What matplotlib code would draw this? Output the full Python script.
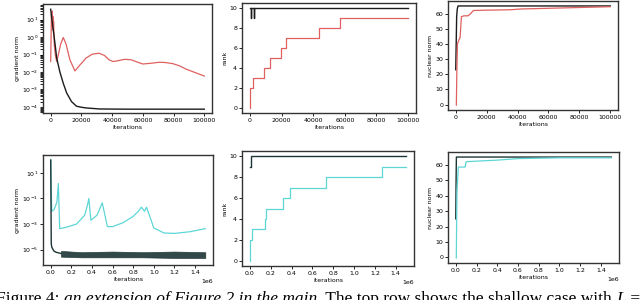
import numpy as np
import matplotlib
matplotlib.use("Agg")
import matplotlib.pyplot as plt
from matplotlib.ticker import FixedLocator, LogFormatterSciNotation

RED = '#e06060'
CYAN = '#5fd6d6'
DARK = '#1c1c1c'
DARK2 = '#1d3434'

# ---- top row (shallow), iterations 0..100000 ----
# gradient norm (log10 values)
gt_black_x = [0, 800, 1700, 3000, 3900, 6000, 8200, 10400, 13600, 16800, 20000, 23000, 32000, 50000, 75000, 100000]
gt_black_y = [1.6, 1.0, 0.4, -0.5, -1.2, -2.0, -2.65, -3.2, -3.7, -3.96, -4.02, -4.06, -4.12, -4.13, -4.13, -4.13]
gt_red_x = [0, 500, 800, 1000, 1200, 1400, 1600, 1900, 2300, 3000, 3900, 5000, 6500, 8200, 10000, 12500,
            15800, 19000, 23000, 27000, 31500, 35000, 38000, 40600, 44000, 48200, 52500, 56000, 60000,
            65000, 70800, 75000, 79500, 84000, 88000, 94000, 100000]
gt_red_y = [-1.4, 1.3, 0.7, 1.5, 0.6, 1.2, 0.4, 0.9, -0.4, -1.0, -1.4, -1.0, -0.4, -0.02, -0.4, -1.3,
            -1.94, -1.6, -1.2, -0.98, -0.92, -1.05, -1.3, -1.4, -1.35, -1.27, -1.3, -1.42, -1.54,
            -1.5, -1.44, -1.46, -1.52, -1.65, -1.83, -2.03, -2.23]

# rank
rt_black_x = [0, 600, 750, 2600, 2750, 100000]
rt_black_y = [10, 9, 10, 9, 10, 10]
rt_red_x = [0, 150, 1700, 8800, 12600, 19600, 22700, 43400, 56800, 100000]
rt_red_y = [0, 2, 3, 4, 5, 6, 7, 8, 9, 9]

# nuclear norm
nt_black_x = [0, 300, 600, 1000, 1500, 100000]
nt_black_y = [23, 40, 58, 63, 65, 65]
nt_red_x = [400, 700, 1100, 2200, 2800, 3700, 5400, 8000, 9700, 11400, 18400, 35600, 42000, 61500, 100000]
nt_red_y = [-0.3, 20, 40, 43, 44, 58, 58.5, 58.5, 60, 62, 62.2, 62.5, 63, 63.5, 64.5]

# ---- bottom row (deep), iterations 0..1.5e6 ----
gb_cyan_x = [0, 0.003e6, 0.01e6, 0.03e6, 0.06e6, 0.074e6, 0.087e6, 0.15e6, 0.25e6, 0.33e6, 0.36e6, 0.37e6,
             0.39e6, 0.45e6, 0.5e6, 0.55e6, 0.6e6, 0.7e6, 0.8e6, 0.85e6, 0.88e6, 0.91e6, 0.93e6, 0.97e6,
             1.0e6, 1.1e6, 1.2e6, 1.35e6, 1.5e6]
gb_cyan_y = [2.04, 0.5, -1.99, -1.9, -1.3, 0.17, -3.36, -3.25, -3.0, -2.3, -1.4, -1.0,
             -2.7, -2.3, -1.34, -3.2, -3.2, -2.9, -2.4, -2.0, -1.68, -2.0, -1.68, -2.6,
             -3.3, -3.7, -3.73, -3.6, -3.36]
gb_black_x = [0, 0.002e6, 0.005e6, 0.01e6, 0.03e6, 0.05e6, 0.1e6]
gb_black_y = [2.0, -0.5, -4.5, -4.8, -5.1, -5.2, -5.3]
gb_band_x = [0.1e6, 0.3e6, 0.6e6, 0.9e6, 1.2e6, 1.5e6]
gb_band_lo = [-5.55, -5.6, -5.6, -5.6, -5.65, -5.65]
gb_band_hi = [-5.1, -5.2, -5.15, -5.2, -5.15, -5.2]

rb_black_x = [0, 0.008e6, 1.5e6]
rb_black_y = [9, 10, 10]
rb_cyan_x = [0, 0.001e6, 0.005e6, 0.025e6, 0.145e6, 0.155e6, 0.32e6, 0.39e6, 0.73e6, 1.27e6, 1.5e6]
rb_cyan_y = [0, 1, 2, 3, 4, 5, 6, 7, 8, 9, 9]

nb_black_x = [0, 0.003e6, 0.006e6, 1.5e6]
nb_black_y = [25, 50, 65, 65]
nb_cyan_x = [0.005e6, 0.008e6, 0.012e6, 0.025e6, 0.09e6, 0.1e6, 0.4e6, 0.6e6, 1.0e6, 1.5e6]
nb_cyan_y = [-0.3, 20, 43, 58.5, 58.5, 62, 63, 64, 64.5, 64.5]

plt.rcParams['font.family'] = 'DejaVu Sans'
plt.rcParams['font.size'] = 4.5
plt.rcParams['axes.linewidth'] = 1.0
plt.rcParams['xtick.major.size'] = 2
plt.rcParams['ytick.major.size'] = 2
plt.rcParams['xtick.major.width'] = 0.6
plt.rcParams['ytick.major.width'] = 0.6
plt.rcParams['xtick.major.pad'] = 1.5
plt.rcParams['ytick.major.pad'] = 1.5
plt.rcParams['axes.labelpad'] = 1.5

fig = plt.figure(figsize=(6.4, 3.0), dpi=100)
W, H = 640, 300


def box(x0, y0, x1, y1):
    return [x0 / W, 1 - y1 / H, (x1 - x0) / W, (y1 - y0) / H]


ax1 = fig.add_axes(box(43, 4, 212, 113))
ax2 = fig.add_axes(box(242, 3, 416, 113))
ax3 = fig.add_axes(box(448, 1, 618, 110))
ax4 = fig.add_axes(box(43, 155, 213, 265))
ax5 = fig.add_axes(box(242, 151, 414, 266))
ax6 = fig.add_axes(box(448, 152, 619, 263))

for a in (ax1, ax2, ax3, ax4, ax5, ax6):
    for s in a.spines.values():
        s.set_color('#333333')

# top-left
ax1.semilogy(gt_red_x, 10 ** np.array(gt_red_y), color=RED, lw=0.9)
ax1.semilogy(gt_black_x, 10 ** np.array(gt_black_y), color=DARK, lw=1.0)
ax1.set_ylim(10 ** -4.35, 10 ** 1.9)
ax1.set_ylabel('gradient norm')
ax1.set_xlabel('iterations')
ax1.set_xticks([0, 20000, 40000, 60000, 80000, 100000])

# top-middle
ax2.plot(rt_black_x, rt_black_y, color=DARK, lw=1.0, drawstyle='steps-post')
ax2.plot(rt_red_x, rt_red_y, color=RED, lw=0.9, drawstyle='steps-post')
ax2.set_yticks([0, 2, 4, 6, 8, 10])
ax2.set_ylabel('rank')
ax2.set_xlabel('iterations')
ax2.set_xticks([0, 20000, 40000, 60000, 80000, 100000])

# top-right
ax3.plot(nt_black_x, nt_black_y, color=DARK, lw=1.0)
ax3.plot(nt_red_x, nt_red_y, color=RED, lw=0.9)
ax3.set_yticks(range(0, 70, 10))
ax3.set_ylabel('nuclear norm')
ax3.set_xlabel('iterations')
ax3.set_xticks([0, 20000, 40000, 60000, 80000, 100000])

# bottom-left
ax4.semilogy(gb_cyan_x, 10 ** np.array(gb_cyan_y), color=CYAN, lw=0.9)
ax4.semilogy(gb_black_x, 10 ** np.array(gb_black_y), color=DARK2, lw=1.0)
ax4.fill_between(gb_band_x, 10 ** np.array(gb_band_lo), 10 ** np.array(gb_band_hi),
                 color=DARK2, alpha=0.9, lw=0.5)
ax4.set_ylim(10 ** -6.2, 10 ** 2.4)
ax4.yaxis.set_major_locator(FixedLocator([1e1, 1e-1, 1e-3, 1e-5]))
ax4.yaxis.set_minor_locator(FixedLocator([]))
ax4.yaxis.set_major_formatter(LogFormatterSciNotation())
ax4.set_ylabel('gradient norm')
ax4.set_xlabel('iterations')

# bottom-middle
ax5.plot(rb_black_x, rb_black_y, color=DARK2, lw=1.0, drawstyle='steps-post')
ax5.plot(rb_cyan_x, rb_cyan_y, color=CYAN, lw=0.9, drawstyle='steps-post')
ax5.set_yticks([0, 2, 4, 6, 8, 10])
ax5.set_ylabel('rank')
ax5.set_xlabel('iterations')

# bottom-right
ax6.plot(nb_black_x, nb_black_y, color=DARK2, lw=1.0)
ax6.plot(nb_cyan_x, nb_cyan_y, color=CYAN, lw=0.9)
ax6.set_yticks(range(0, 70, 10))
ax6.set_ylabel('nuclear norm')
ax6.set_xlabel('iterations')

for a in (ax4, ax5, ax6):
    a.set_xticks([0, 0.2e6, 0.4e6, 0.6e6, 0.8e6, 1.0e6, 1.2e6, 1.4e6])
    a.xaxis.get_offset_text().set_fontsize(4.5)

# caption (cut off at the bottom of the image, as in the source)
pieces = [("Figure 4: ", 'normal'),
          ("an extension of Figure 2 in the main", 'italic'),
          (". The top row shows the shallow case with ", 'normal'),
          ("L", 'italic'),
          (" = 5", 'normal')]
fig.canvas.draw()
renderer = fig.canvas.get_renderer()
x = -4
for s, st in pieces:
    t = fig.text(x / W, -3 / H, s, fontsize=12.5, family='Liberation Serif', style=st,
                 va='baseline', ha='left')
    bb = t.get_window_extent(renderer)
    x = bb.x1

fig.savefig('out.png', dpi=100)
